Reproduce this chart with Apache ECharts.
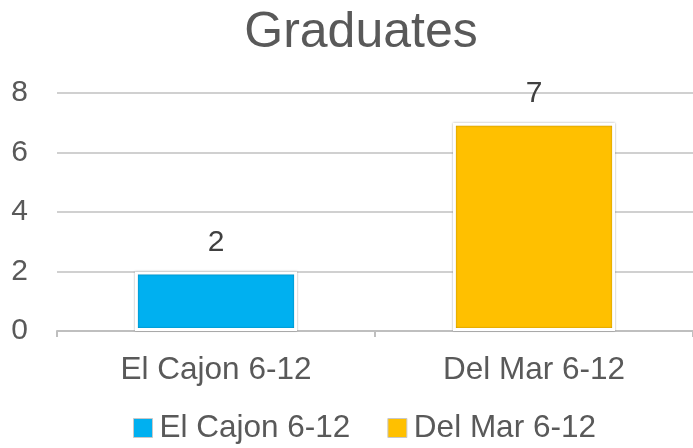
<!DOCTYPE html>
<html>
<head>
<meta charset="utf-8">
<script src="https://cdn.jsdelivr.net/npm/echarts@6/dist/echarts.min.js"></script>
<style>
  html, body { margin: 0; padding: 0; background: #fff; }
  #chart { width: 693px; height: 448px; }
</style>
</head>
<body>
<div id="chart"></div>
<script>
  var categories = ["El Cajon 6-12", "Del Mar 6-12"];
  var elCajon = [2, "-"];
  var delMar = ["-", 7];
  var yTicks = { min: 0, max: 8, interval: 2 };

  var textColor = "#595959";
  var font = "Liberation Sans, Arial, sans-serif";

  var myChart = echarts.init(document.getElementById("chart"));

  var barBase = {
    type: "bar",
    stack: "one",
    barWidth: "51%",
    label: {
      show: true,
      position: "top",
      distance: 14,
      color: "#404040",
      fontSize: 30,
      fontFamily: font
    }
  };

  var option = {
    animation: false,
    textStyle: { fontFamily: font },
    //标题
    title: {
      text: "Graduates",
      left: 356,
      textAlign: "center",
      top: 3,
      textStyle: { color: textColor, fontSize: 50, fontWeight: "normal", fontFamily: font }
    },
    //图例
    legend: {
      bottom: -1,
      left: 128,
      itemWidth: 19,
      itemHeight: 19,
      itemGap: 37,
      icon: "rect",
      textStyle: { color: textColor, fontSize: 31.5, fontFamily: font, padding: [0, 0, 0, 2] },
      data: [
        { name: "El Cajon 6-12", itemStyle: { borderColor: "#c8c8c8", borderWidth: 1 } },
        { name: "Del Mar 6-12", itemStyle: { borderColor: "#c8c8c8", borderWidth: 1 } }
      ]
    },
    grid: { left: 57, right: -4, top: 93, bottom: 117 },
    xAxis: {
      type: "category",
      data: categories,
      axisLine: { lineStyle: { color: "#bfbfbf", width: 2 } },
      axisTick: { show: true, length: 6, lineStyle: { color: "#bfbfbf", width: 2 } },
      axisLabel: { color: textColor, fontSize: 31.5, margin: 23, fontFamily: font }
    },
    yAxis: {
      type: "value",
      min: yTicks.min,
      max: yTicks.max,
      interval: yTicks.interval,
      axisLine: { show: false },
      axisTick: { show: false },
      axisLabel: { color: textColor, fontSize: 30, margin: 29, fontFamily: font },
      splitLine: { lineStyle: { color: "#d0d0d0", width: 2 } }
    },
    series: [
      Object.assign({}, barBase, {
        name: "El Cajon 6-12",
        data: elCajon,
        itemStyle: { color: "#00b0f0", borderColor: "#ffffff", borderWidth: 3, shadowColor: "rgba(0,0,0,0.35)", shadowBlur: 2 }
      }),
      Object.assign({}, barBase, {
        name: "Del Mar 6-12",
        data: delMar,
        itemStyle: { color: "#ffc000", borderColor: "#ffffff", borderWidth: 3, shadowColor: "rgba(0,0,0,0.35)", shadowBlur: 2 }
      })
    ]
  };

  myChart.setOption(option);
</script>
</body>
</html>
